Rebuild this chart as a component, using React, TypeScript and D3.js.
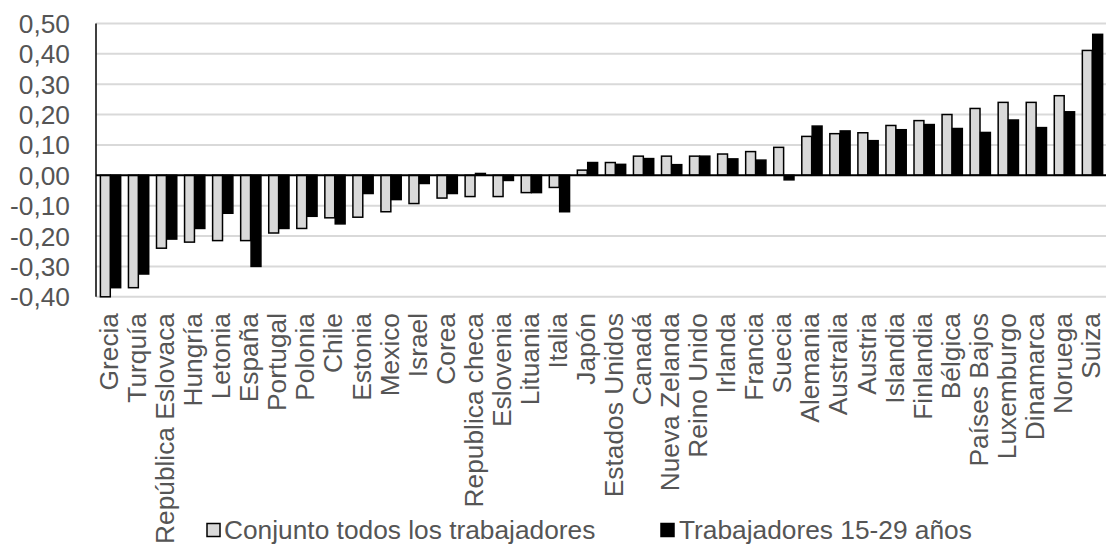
import React from "react";
import * as d3 from "d3";

const categories = [
  "Grecia", "Turquía", "República Eslovaca", "Hungría", "Letonia", "España",
  "Portugal", "Polonia", "Chile", "Estonia", "Mexico", "Israel", "Corea",
  "Republica checa", "Eslovenia", "Lituania", "Italia", "Japón", "Estados Unidos",
  "Canadá", "Nueva Zelanda", "Reino Unido", "Irlanda", "Francia", "Suecia",
  "Alemania", "Australia", "Austria", "Islandia", "Finlandia", "Bélgica",
  "Países Bajos", "Luxemburgo", "Dinamarca", "Noruega", "Suiza",
];

const todos = [
  -0.40, -0.37, -0.24, -0.22, -0.215, -0.215, -0.19, -0.175, -0.14, -0.138,
  -0.12, -0.093, -0.075, -0.07, -0.07, -0.057, -0.04, 0.017, 0.042, 0.063,
  0.063, 0.063, 0.07, 0.078, 0.092, 0.128, 0.137, 0.14, 0.164, 0.18, 0.20,
  0.22, 0.24, 0.24, 0.262, 0.411,
];

const jovenes = [
  -0.37, -0.325, -0.21, -0.175, -0.125, -0.30, -0.175, -0.135, -0.16, -0.06,
  -0.08, -0.027, -0.06, 0.006, -0.017, -0.057, -0.12, 0.042, 0.036, 0.055,
  0.035, 0.063, 0.054, 0.05, -0.015, 0.162, 0.146, 0.114, 0.15, 0.167, 0.154,
  0.141, 0.182, 0.157, 0.209, 0.464,
];

const seriesNames = ["Conjunto todos los trabajadores", "Trabajadores 15-29 años"];
const seriesFill = ["#d9d9d9", "#000000"];
const yTicks = [0.5, 0.4, 0.3, 0.2, 0.1, 0, -0.1, -0.2, -0.3, -0.4];

const W = 1109;
const H = 549;
const FONT = "'Liberation Sans', Arial, sans-serif";
const FS = 26.3;

export default function App() {
  const left = 96;
  const right = 1106;
  const y = d3.scaleLinear().domain([-0.4, 0.5]).range([296.8, 23.4]);
  const x0 = d3
    .scaleBand<string>()
    .domain(categories)
    .range([left, right])
    .paddingInner(0.26)
    .paddingOuter(0.13);
  const x1 = d3.scaleBand<number>().domain([0, 1]).range([0, x0.bandwidth()]);
  const fmt = (v: number) => d3.format(".2f")(v).replace(".", ",").replace("−", "-");
  const series = [todos, jovenes];
  const zeroY = y(0);

  return (
    <svg
      width={W}
      height={H}
      style={{ position: "absolute", left: 0, top: 0, background: "#fff" }}
      fontFamily={FONT}
    >
      <rect width={W} height={H} fill="#ffffff" />
      {yTicks.map((t) => (
        <g key={t}>
          {t !== 0 && (
            <line x1={left} x2={right} y1={y(t)} y2={y(t)} stroke="#d9d9d9" strokeWidth={2} />
          )}
          <text
            x={70}
            y={y(t)}
            dy="0.36em"
            textAnchor="end"
            fontSize={FS}
            fill="#555555"
          >
            {fmt(t)}
          </text>
        </g>
      ))}
      {categories.map((c, i) => (
        <g key={c} transform={`translate(${x0(c)},0)`}>
          {series.map((s, k) => {
            const v = s[i];
            const y1 = y(Math.max(0, v));
            const y2 = y(Math.min(0, v));
            return (
              <rect
                key={k}
                x={x1(k)! + 0.75}
                y={y1}
                width={x1.bandwidth() - 0.5}
                height={Math.max(0.5, y2 - y1)}
                fill={seriesFill[k]}
                stroke="#000"
                strokeWidth={1.5}
              />
            );
          })}
        </g>
      ))}
      <line x1={left} x2={right} y1={zeroY} y2={zeroY} stroke="#000" strokeWidth={2} />
      <line x1={left} x2={left} y1={y(0.5)} y2={y(-0.4)} stroke="#000" strokeWidth={1.5} />
      {categories.map((c) => {
        const cx = x0(c)! + x0.bandwidth() / 2 + 8;
        return (
          <text
            key={c}
            transform={`translate(${cx},313) rotate(-90)`}
            textAnchor="end"
            fontSize={FS}
            fill="#555555"
          >
            {c}
          </text>
        );
      })}
      <g>
        <rect x={207} y={523.5} width={13} height={13} fill={seriesFill[0]} stroke="#000" strokeWidth={1.5} />
        <text x={224} y={539} fontSize={FS} fill="#555555">
          {seriesNames[0]}
        </text>
        <rect x={661} y={523.5} width={13} height={13} fill={seriesFill[1]} stroke="#000" strokeWidth={1.5} />
        <text x={679} y={539} fontSize={FS} fill="#555555">
          {seriesNames[1]}
        </text>
      </g>
    </svg>
  );
}
